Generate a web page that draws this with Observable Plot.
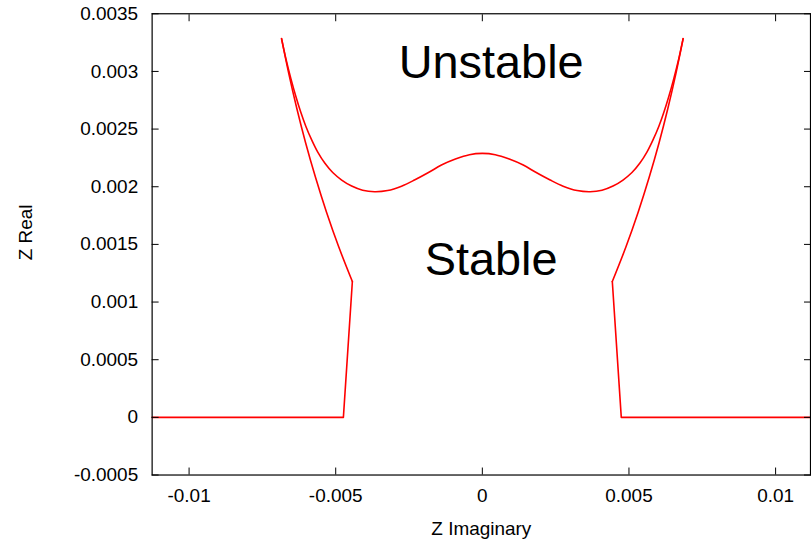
<!DOCTYPE html>
<html>
<head>
<meta charset="utf-8">
<script src="https://cdn.jsdelivr.net/npm/d3@7"></script>
<script src="https://cdn.jsdelivr.net/npm/@observablehq/plot@0.6"></script>
<style>
  html, body { margin: 0; padding: 0; background: #fff; overflow: hidden; }
</style>
</head>
<body>
<div id="chart"></div>
<script>
// Stability boundary in the complex Z plane (real part vs imaginary part).

// Axis ticks and their labels
const xTicks = [-0.01, -0.005, 0, 0.005, 0.01];
const xTickLabels = ["-0.01", "-0.005", "0", "0.005", "0.01"];
const yTicks = [-0.0005, 0, 0.0005, 0.001, 0.0015, 0.002, 0.0025, 0.003, 0.0035];
const yTickLabels = ["-0.0005", "0", "0.0005", "0.001", "0.0015", "0.002", "0.0025", "0.003", "0.0035"];

// Flat part on the real axis, then the steep rise to the kink (left and right)
const floorLeftX = [-0.01126, -0.004738, -0.004432];
const floorLeftY = [0, 0, 0.001178];
const floorRightX = [0.004432, 0.004738, 0.01119];
const floorRightY = [0.001178, 0, 0];

// Lower branches: from the kink up to the top cusp
const lowerLeftX = [-0.004432, -0.004898, -0.005313, -0.005687, -0.006027, -0.006330, -0.006602, -0.006847];
const lowerLeftY = [0.001178, 0.001479, 0.001779, 0.002080, 0.002382, 0.002683, 0.002983, 0.003284];
const lowerRightX = [0.004432, 0.004898, 0.005313, 0.005687, 0.006027, 0.006330, 0.006602, 0.006847];
const lowerRightY = [0.001178, 0.001479, 0.001779, 0.002080, 0.002382, 0.002683, 0.002983, 0.003284];

// Upper branch: from the left cusp, through the two dips and central hump, to the right cusp
const upperX = [
  -0.006847, -0.006701, -0.006531, -0.006361, -0.006190, -0.006020, -0.005816, -0.005612,
  -0.005374, -0.005102, -0.004796, -0.004456, -0.004082, -0.003673, -0.003231, -0.002755,
  -0.002313, -0.001837, -0.001395, -0.000918, -0.000442, 0,
  0.000442, 0.000918, 0.001395, 0.001837, 0.002313, 0.002755, 0.003231, 0.003673,
  0.004082, 0.004456, 0.004796, 0.005102, 0.005374, 0.005612, 0.005816, 0.006020,
  0.006190, 0.006361, 0.006531, 0.006701, 0.006847
];
const upperY = [
  0.003284, 0.003113, 0.002940, 0.002785, 0.002646, 0.002525, 0.002404, 0.002300,
  0.002205, 0.002123, 0.002058, 0.002006, 0.001970, 0.001957, 0.001967, 0.002005,
  0.002058, 0.002123, 0.002188, 0.002240, 0.002278, 0.002289,
  0.002278, 0.002240, 0.002188, 0.002123, 0.002058, 0.002005, 0.001967, 0.001957,
  0.001970, 0.002006, 0.002058, 0.002123, 0.002205, 0.002300, 0.002404, 0.002525,
  0.002646, 0.002785, 0.002940, 0.003113, 0.003284
];

// Region annotations
const regionLabels = ["Unstable", "Stable"];
const regionLabelX = [0.0003, 0.0003];
const regionLabelY = [0.00307, 0.001363];

function rows(piece, xs, ys) {
  return xs.map((x, i) => ({piece, x, y: ys[i]}));
}
const floors = [
  ...rows("floorLeft", floorLeftX, floorLeftY),
  ...rows("floorRight", floorRightX, floorRightY)
];
const branches = [
  ...rows("lowerLeft", lowerLeftX, lowerLeftY),
  ...rows("upper", upperX, upperY),
  ...rows("lowerRight", lowerRightX, lowerRightY)
];
const regions = regionLabels.map((t, i) => ({t, x: regionLabelX[i], y: regionLabelY[i]}));

const fontFamily = "'Liberation Sans', Arial, Helvetica, sans-serif";

const chart = Plot.plot({
  width: 813,
  height: 542,
  marginLeft: 152,
  marginRight: 1,
  marginTop: 13.3,
  marginBottom: 66.3,
  style: {fontFamily, fontSize: "19px", color: "black", background: "white"},
  x: {domain: [-0.01126, 0.01119]},
  y: {domain: [-0.0005, 0.0035]},
  marks: [
    Plot.line(floors, {x: "x", y: "y", z: "piece", stroke: "#ff0000", strokeWidth: 1.6, curve: "linear"}),
    Plot.line(branches, {x: "x", y: "y", z: "piece", stroke: "#ff0000", strokeWidth: 1.6, curve: "catmull-rom"}),
    Plot.frame({stroke: "black", strokeWidth: 1.2}),
    Plot.axisX(xTicks, {anchor: "bottom", tickSize: -7, tickPadding: 21, tickFormat: d => xTickLabels[xTicks.indexOf(d)], label: null, fontSize: 19}),
    Plot.axisX(xTicks, {anchor: "top", tickSize: -7, tickFormat: () => "", label: null}),
    Plot.axisY(yTicks, {anchor: "left", tickSize: -7, tickPadding: 21, tickFormat: d => yTickLabels[yTicks.indexOf(d)], label: null, fontSize: 19}),
    Plot.axisY(yTicks, {anchor: "right", tickSize: -7, tickFormat: () => "", label: null}),
    Plot.text(["Z Imaginary"], {frameAnchor: "bottom", dy: 60, fontSize: 19}),
    Plot.text(["Z Real"], {frameAnchor: "left", dx: -127, dy: 16, rotate: -90, fontSize: 19}),
    Plot.text(regions, {x: "x", y: "y", text: "t", fontSize: 47, textAnchor: "middle", lineAnchor: "middle"})
  ]
});

document.getElementById("chart").appendChild(chart);
</script>
</body>
</html>
